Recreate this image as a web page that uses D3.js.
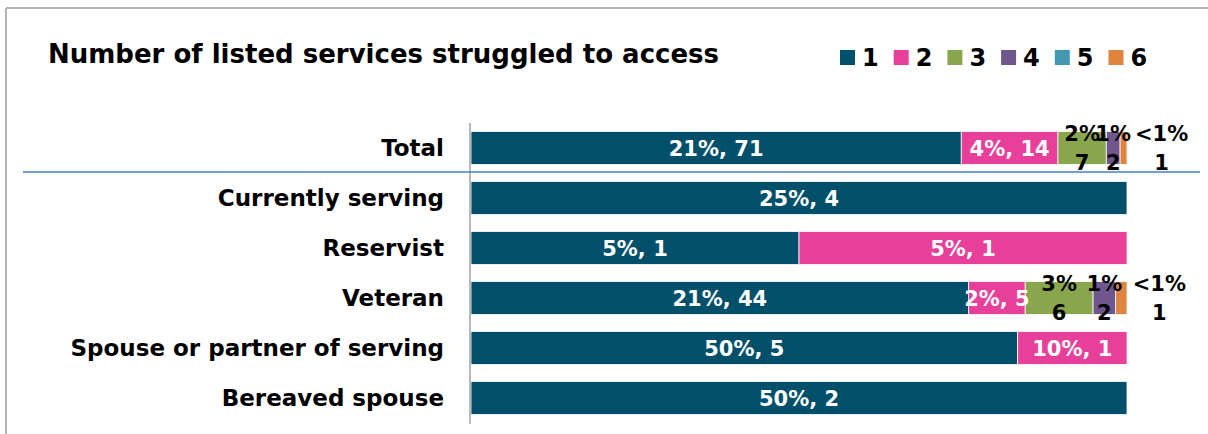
<!DOCTYPE html>
<html>
<head>
<meta charset="utf-8">
<script src="https://cdn.jsdelivr.net/npm/d3@7"></script>
<style>
  body { margin: 0; background: #fff; }
  svg text { font-family: "DejaVu Sans", Verdana, sans-serif; font-weight: bold; }
</style>
</head>
<body>
<svg id="chart" width="1208" height="434"></svg>
<script>
// chart data
var categories = ["Total", "Currently serving", "Reservist", "Veteran", "Spouse or partner of serving", "Bereaved spouse"];
var seriesNames = ["1", "2", "3", "4", "5", "6"];
var colors = ["#00506b", "#e8409a", "#8aa64d", "#6f578d", "#4398b0", "#df843d"];

// counts per series (one value per category)
var counts1 = [71, 4, 1, 44, 5, 2];
var counts2 = [14, 0, 1, 5, 1, 0];
var counts3 = [7, 0, 0, 6, 0, 0];
var counts4 = [2, 0, 0, 2, 0, 0];
var counts5 = [0, 0, 0, 0, 0, 0];
var counts6 = [1, 0, 0, 1, 0, 0];

// percent labels shown next to counts
var pct1 = ["21%", "25%", "5%", "21%", "50%", "50%"];
var pct2 = ["4%", "", "5%", "2%", "10%", ""];
var pct3 = ["2%", "", "", "3%", "", ""];
var pct4 = ["1%", "", "", "1%", "", ""];
var pct5 = ["", "", "", "", "", ""];
var pct6 = ["<1%", "", "", "<1%", "", ""];

var allCounts = [counts1, counts2, counts3, counts4, counts5, counts6];
var allPct = [pct1, pct2, pct3, pct4, pct5, pct6];

var svg = d3.select("#chart");

// frame
svg.append("line").attr("x1", 6).attr("x2", 6).attr("y1", 8).attr("y2", 434)
  .attr("stroke", "#b4b4b4").attr("stroke-width", 2);
svg.append("line").attr("x1", 6).attr("x2", 1208).attr("y1", 8).attr("y2", 8)
  .attr("stroke", "#b4b4b4").attr("stroke-width", 2);

// title
svg.append("text").attr("x", 48).attr("y", 63)
  .attr("font-size", 26).attr("fill", "#000")
  .text("Number of listed services struggled to access");

// legend
var legend = svg.append("g").selectAll("g")
  .data(seriesNames)
  .join("g")
  .attr("transform", (d, i) => `translate(${840 + i * 53.7},50)`);
legend.append("rect").attr("width", 15).attr("height", 15).attr("fill", (d, i) => colors[i]);
legend.append("text").attr("x", 22).attr("y", 16).attr("font-size", 24).text(d => d);

// scales
var x = d3.scaleLinear().domain([0, 1]).range([471, 1127]);
var y = d3.scaleBand().domain(categories).range([123, 423]).paddingInner(0.34).paddingOuter(0.17);

// stacked rows (share of row total)
var rows = categories.map((c, ci) => {
  var vals = allCounts.map(s => s[ci]);
  var total = d3.sum(vals);
  var acc = 0;
  return vals.map((v, si) => {
    var seg = { cat: c, series: si, value: v, pct: allPct[si][ci], x0: acc / total, x1: (acc + v) / total, last: false };
    acc += v;
    return seg;
  });
});
rows.forEach(r => {
  var nz = r.filter(s => s.value > 0);
  nz[nz.length - 1].last = true;
});
var segs = rows.flat().filter(s => s.value > 0);

svg.append("g").selectAll("rect")
  .data(segs)
  .join("rect")
  .attr("x", d => x(d.x0))
  .attr("width", d => x(d.x1) - x(d.x0))
  .attr("y", d => y(d.cat))
  .attr("height", y.bandwidth())
  .attr("fill", d => colors[d.series])
  .attr("stroke", "#fff").attr("stroke-width", 0.8);

// category labels
svg.append("g").selectAll("text")
  .data(categories)
  .join("text")
  .attr("x", 444)
  .attr("y", d => y(d) + y.bandwidth() / 2)
  .attr("dy", "0.36em")
  .attr("text-anchor", "end")
  .attr("font-size", 23)
  .attr("fill", "#000")
  .text(d => d);

// axis line
svg.append("line").attr("x1", 470).attr("x2", 470).attr("y1", 123).attr("y2", 424)
  .attr("stroke", "#a0a0a0").attr("stroke-width", 1.5);

// separator under Total
svg.append("line").attr("x1", 23).attr("x2", 1200).attr("y1", 172).attr("y2", 172)
  .attr("stroke", "#4a7ebb").attr("stroke-width", 1.5);

// value labels
var inner = segs.filter(d => d.series < 2);
svg.append("g").selectAll("text")
  .data(inner)
  .join("text")
  .attr("x", d => (x(d.x0) + x(d.x1)) / 2)
  .attr("y", d => y(d.cat) + y.bandwidth() / 2)
  .attr("dy", "0.36em")
  .attr("text-anchor", "middle")
  .attr("font-size", 21)
  .attr("fill", "#fff")
  .text(d => `${d.pct}, ${d.value}`);

var outer = segs.filter(d => d.series >= 2);
var og = svg.append("g").selectAll("text")
  .data(outer)
  .join("text")
  .attr("text-anchor", "middle")
  .attr("font-size", 21)
  .attr("fill", "#000")
  .attr("transform", d => {
    var cx = (x(d.x0) + x(d.x1)) / 2 + (d.last ? 38 : 0);
    return `translate(${cx},${y(d.cat) + y.bandwidth() / 2})`;
  });
og.append("tspan").attr("x", 0).attr("y", -15).attr("dy", "0.36em").text(d => d.pct);
og.append("tspan").attr("x", 0).attr("y", 14).attr("dy", "0.36em").text(d => d.value);
</script>
</body>
</html>
